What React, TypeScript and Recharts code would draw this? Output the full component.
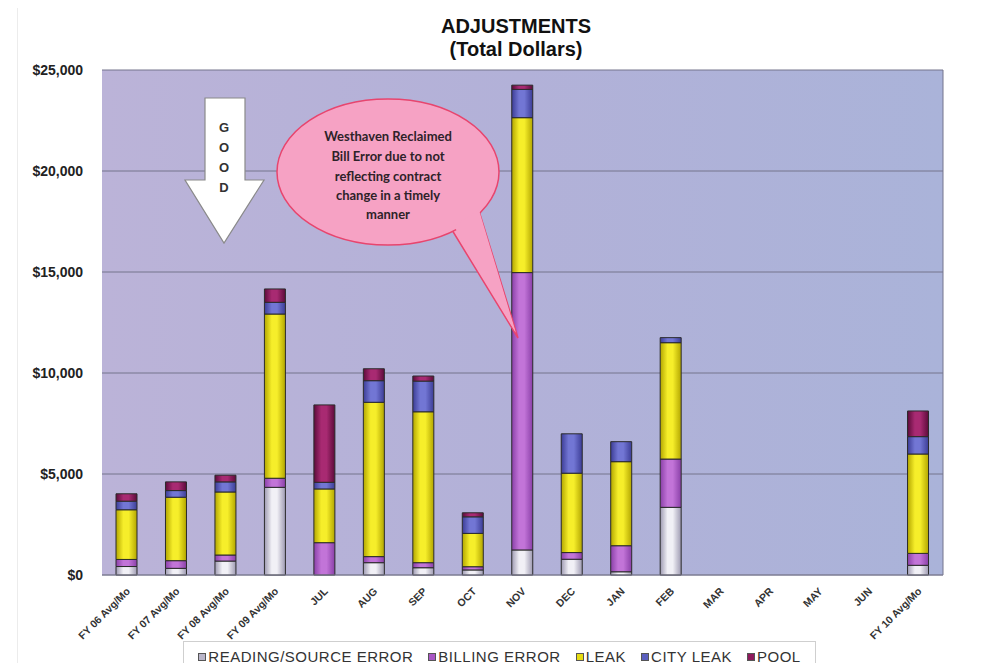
import { Bar, BarChart, CartesianGrid, Legend, XAxis, YAxis } from 'recharts'

const months = [
  'FY 06 Avg/Mo',
  'FY 07 Avg/Mo',
  'FY 08 Avg/Mo',
  'FY 09 Avg/Mo',
  'JUL',
  'AUG',
  'SEP',
  'OCT',
  'NOV',
  'DEC',
  'JAN',
  'FEB',
  'MAR',
  'APR',
  'MAY',
  'JUN',
  'FY 10 Avg/Mo',
]

// dollars per category (MAR-JUN have no data yet)
const readingError = [420, 330, 690, 4340, 0, 610, 360, 250, 1240, 780, 160, 3350, null, null, null, null, 480]
const billingError = [350, 380, 300, 450, 1600, 300, 250, 160, 13730, 330, 1290, 2390, null, null, null, null, 590]
const leak = [2460, 3140, 3120, 8130, 2660, 7640, 7470, 1650, 7670, 3930, 4160, 5760, null, null, null, null, 4920]
const cityLeak = [425, 330, 500, 580, 330, 1070, 1520, 820, 1400, 1950, 990, 250, null, null, null, null, 860]
const pool = [365, 430, 330, 660, 3830, 590, 250, 200, 210, 0, 0, 0, null, null, null, null, 1270]

const yTicks = [0, 5000, 10000, 15000, 20000, 25000]

const series = [
  { key: 'reading', name: 'READING/SOURCE ERROR', light: '#f1f0f6', dark: '#9e9ab2', icon: '#b9b5c9' },
  { key: 'billing', name: 'BILLING ERROR', light: '#c274d8', dark: '#8a40a8', icon: '#a957c5' },
  { key: 'leak', name: 'LEAK', light: '#f6ee2a', dark: '#b3a600', icon: '#e6dc12' },
  { key: 'city', name: 'CITY LEAK', light: '#7276d4', dark: '#3c3d96', icon: '#5b5fbf' },
  { key: 'pool', name: 'POOL', light: '#a82a72', dark: '#5c0b3a', icon: '#8e1a5c' },
]

const chartData = months.map((month, i) => ({
  month,
  reading: readingError[i],
  billing: billingError[i],
  leak: leak[i],
  city: cityLeak[i],
  pool: pool[i],
}))

const font = '"Liberation Sans", Arial, sans-serif'

function MonthTick({ x, y, payload }: any) {
  return (
    <g transform={`translate(${x + 4},${y + 17})`}>
      <text
        transform='rotate(-45)'
        textAnchor='end'
        fontSize={10.5}
        fontWeight='bold'
        fontFamily={font}
        fill='#333'
      >
        {payload.value}
      </text>
    </g>
  )
}

// keep the legend in series order (the default sorts by name)
function LegendBox() {
  return (
    <div
      style={{
        height: 30,
        boxSizing: 'border-box',
        border: '1px solid #cfcfcf',
        background: '#fff',
        display: 'flex',
        alignItems: 'center',
        justifyContent: 'center',
        gap: 15,
        paddingTop: 2,
        fontFamily: font,
        fontSize: 15,
        lineHeight: '16px',
        letterSpacing: 0.5,
        color: '#333',
      }}
    >
      {series.map((s) => (
        <span key={s.key} style={{ display: 'flex', alignItems: 'center' }}>
          <span
            style={{
              width: 6,
              height: 6,
              marginRight: 2,
              background: s.icon,
              border: '1px solid #555',
            }}
          />
          {s.name}
        </span>
      ))}
    </div>
  )
}

function Annotations() {
  return (
    <svg
      width={991}
      height={671}
      style={{ position: 'absolute', left: 0, top: 0, pointerEvents: 'none' }}
    >
      <g fontFamily={font} fontWeight='bold' fill='#111' textAnchor='middle'>
        <text x={516} y={33} fontSize={20}>ADJUSTMENTS</text>
        <text x={516} y={56} fontSize={20}>(Total Dollars)</text>
      </g>

      {/* GOOD arrow */}
      <path
        d='M205,98 L245,98 L245,180 L264,180 L224,243 L185,180 L205,180 Z'
        fill='#fff'
        stroke='#8a8a8a'
        strokeWidth={1.2}
      />
      <g fontFamily={font} fontWeight='bold' fontSize={13} fill='#333' textAnchor='middle'>
        <text x={224} y={132}>G</text>
        <text x={224} y={152}>O</text>
        <text x={224} y={172}>O</text>
        <text x={224} y={192}>D</text>
      </g>

      {/* speech bubble */}
      <path d='M452,230 L518,338 L480,214 Z' fill='#f6a2c4' stroke='#e8456e' strokeWidth={1.5} />
      <ellipse cx={388} cy={172} rx={111} ry={73} fill='#f6a2c4' stroke='#e8456e' strokeWidth={1.5} />
      <path d='M454,226 L516,333 L479,210 Z' fill='#f6a2c4' />
      <g fontFamily='Lato, "Open Sans", sans-serif' fontWeight='bold' fontSize={13} fill='#2e2229' textAnchor='middle'>
        <text x={388} y={141}>Westhaven Reclaimed</text>
        <text x={388} y={161}>Bill Error due to not</text>
        <text x={388} y={181}>reflecting contract</text>
        <text x={388} y={200}>change in a timely</text>
        <text x={388} y={219}>manner</text>
      </g>
    </svg>
  )
}

export default function App() {
  return (
    <div style={{ position: 'relative', width: 991, height: 671, margin: -8, background: '#fff', overflow: 'hidden' }}>
      <div
        style={{
          position: 'absolute',
          left: 17,
          top: 4,
          width: 968,
          height: 700,
          border: '1px solid #ececec',
        }}
      />
      <BarChart
        width={991}
        height={671}
        data={chartData}
        margin={{ top: 70, right: 48, left: 0, bottom: 0 }}
        barSize={21}
      >
        <defs>
          <linearGradient id='plotBg' x1='0' y1='0' x2='1' y2='0'>
            <stop offset='0%' stopColor='#bbb3d8' />
            <stop offset='50%' stopColor='#b2b1d8' />
            <stop offset='100%' stopColor='#aab3d9' />
          </linearGradient>
          {series.map((s) => (
            <linearGradient key={s.key} id={`grad-${s.key}`} x1='0' y1='0' x2='1' y2='0'>
              <stop offset='0%' stopColor={s.dark} />
              <stop offset='35%' stopColor={s.light} />
              <stop offset='60%' stopColor={s.light} />
              <stop offset='100%' stopColor={s.dark} />
            </linearGradient>
          ))}
        </defs>
        <CartesianGrid
          fill='url(#plotBg)'
          fillOpacity={1}
          stroke='#74748c'
          verticalCoordinatesGenerator={({ offset }: any) => [offset.left + offset.width]}
        />
        <XAxis
          dataKey='month'
          interval={0}
          height={66}
          tickLine={false}
          tickSize={0}
          tickMargin={0}
          axisLine={{ stroke: '#808096' }}
          tick={<MonthTick />}
        />
        <YAxis
          width={102}
          domain={[0, 25000]}
          ticks={yTicks}
          axisLine={false}
          tickLine={false}
          tickSize={0}
          tickMargin={19}
          tick={{ fontSize: 14, fontWeight: 'bold', fill: '#222', fontFamily: font }}
          tickFormatter={(value) => `$${value.toLocaleString('en-US')}`}
        />
        <Legend
          verticalAlign='bottom'
          content={<LegendBox />}
          wrapperStyle={{ left: 183, width: 633, bottom: 0 }}
        />
        {series.map((s) => (
          <Bar
            key={s.key}
            dataKey={s.key}
            name={s.name}
            stackId='adj'
            fill={`url(#grad-${s.key})`}
            stroke='#2b2b2b'
            strokeWidth={1}
            isAnimationActive={false}
          />
        ))}
      </BarChart>
      <Annotations />
    </div>
  )
}
